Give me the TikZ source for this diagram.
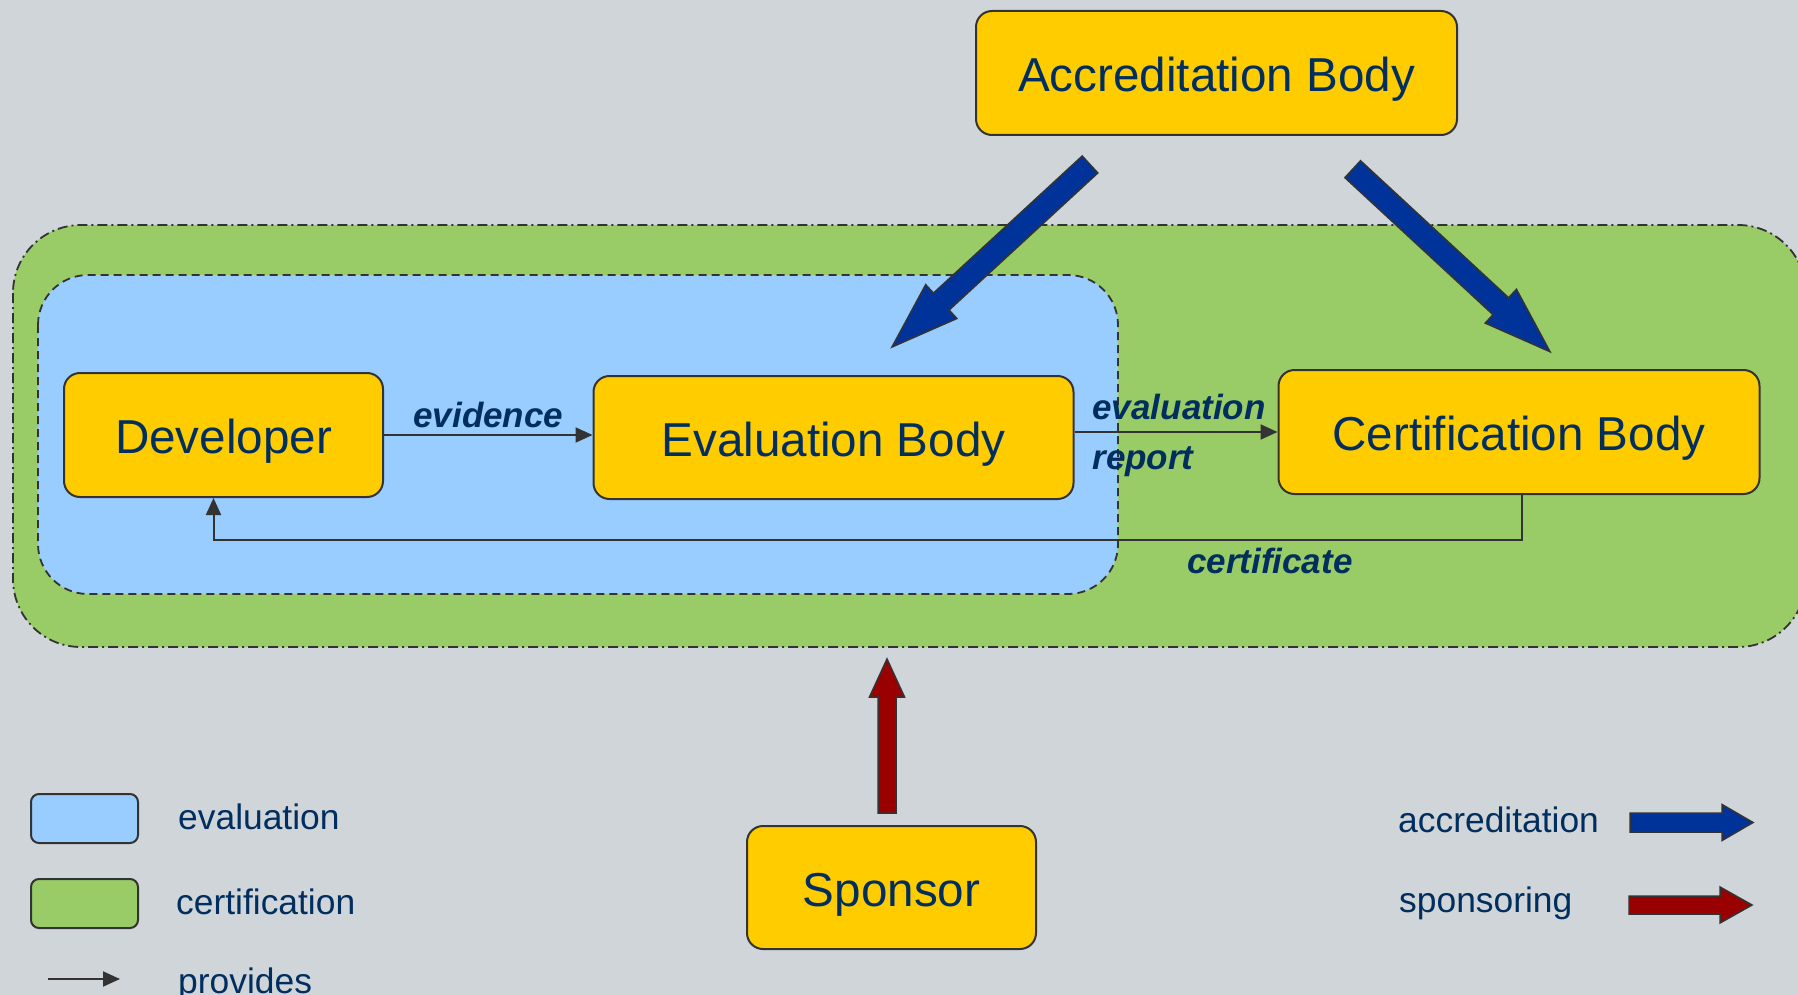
\documentclass[tikz,border=0pt]{standalone}
\usepackage{fontspec}
\setmainfont{Liberation Sans}
\usetikzlibrary{arrows.meta,calc}
\definecolor{bg}{RGB}{208,213,217}
\definecolor{certgreen}{RGB}{153,204,102}
\definecolor{evalblue}{RGB}{153,204,255}
\definecolor{boxyellow}{RGB}{255,204,0}
\definecolor{navy}{RGB}{0,46,94}
\definecolor{outline}{RGB}{51,51,51}
\definecolor{accblue}{RGB}{0,51,153}
\definecolor{sponred}{RGB}{153,0,0}

% tail, tip, fill, shaft half width, head half width, head length
\newcommand\BlockArrow[6]{%
  \coordinate (ba-hb) at ($(#2)!#6!(#1)$);
  \draw[blockarrow, fill=#3]
    ($(#1)!#4!90:(#2)$) -- ($(ba-hb)!#4!90:(#2)$) -- ($(ba-hb)!#5!90:(#2)$)
    -- (#2)
    -- ($(ba-hb)!#5!-90:(#2)$) -- ($(ba-hb)!#4!-90:(#2)$) -- ($(#1)!#4!-90:(#2)$) -- cycle;
}

\begin{document}
\begin{tikzpicture}[x=1pt,y=-1pt,
  entity/.style={draw=outline, line width=2pt, fill=boxyellow, rounded corners=16pt,
    text=navy, font=\fontsize{47.6}{56}\selectfont, text height=37pt, text depth=0pt, inner sep=0pt},
  lbl/.style={text=navy, font=\fontsize{35}{42}\selectfont\bfseries\itshape, inner sep=0pt},
  legtext/.style={text=navy, font=\fontsize{35.4}{42}\selectfont, inner sep=0pt},
  legbox/.style={draw=outline, line width=2pt, rounded corners=8pt, minimum width=107pt, minimum height=49pt, inner sep=0pt},
  provides/.style={draw=outline, line width=2pt, -{Triangle[length=17pt,width=15pt]}},
  blockarrow/.style={draw=outline, line width=1.5pt, line join=miter},
  certregion/.style={fill=certgreen, draw=outline, line width=1.8pt,
    dash pattern=on 10pt off 4pt on 2pt off 4pt, rounded corners=68pt},
  evalregion/.style={fill=evalblue, draw=outline, line width=1.8pt,
    dash pattern=on 8pt off 5pt, rounded corners=50pt}
]
\useasboundingbox (0,0) rectangle (1798,995);
\clip (0,0) rectangle (1798,995);
\fill[bg] (0,0) rectangle (1798,995);

% regions
\draw[certregion] (13,225) rectangle (1806,647);
\draw[evalregion] (38,275) rectangle (1118,594);

% block arrows
\coordinate (acc1tail) at (1090,164.5);
\coordinate (acc1tip) at (892,347);
\BlockArrow{acc1tail}{acc1tip}{accblue}{11.5pt}{23pt}{67pt}
\coordinate (acc2tail) at (1352.7,169.2);
\coordinate (acc2tip) at (1550,351.7);
\BlockArrow{acc2tail}{acc2tip}{accblue}{11.5pt}{23pt}{67pt}
\coordinate (spontail) at (887,813);
\coordinate (spontip) at (887,659);
\BlockArrow{spontail}{spontip}{sponred}{9pt}{17.5pt}{38pt}

% main boxes
\node[entity, minimum width=319pt, minimum height=124pt] (dev) at (223.5,435) {Developer};
\node[entity, minimum width=480pt, minimum height=123pt] (eval) at (833.5,437.5) {Evaluation Body};
\node[entity, minimum width=481pt, minimum height=124pt] (cert) at (1519,432) {Certification Body};
\node[entity, minimum width=481pt, minimum height=124pt] (acc) at (1216.5,73) {Accreditation Body};
\node[entity, minimum width=289pt, minimum height=123pt] (spon) at (891.5,887.5) {Sponsor};

% provides connectors
\draw[provides] (dev.east) -- (dev.east -| eval.west)
  node[midway, lbl, anchor=base, yshift=8pt] {evidence};
\draw[provides] (eval.east |- cert.west) -- (cert.west)
  node[pos=0, lbl, anchor=base west, xshift=17pt, yshift=13pt] {evaluation}
  node[pos=0, lbl, anchor=base west, xshift=17pt, yshift=-37pt] {report};
\draw[provides] ([xshift=3pt]cert.south) -- ++(0,45) -| ([xshift=-10pt]dev.south);
\node[lbl, anchor=base west] (certlbl) at (1187,573) {certificate};

% legend
\node[legbox, fill=evalblue] (legeval) at (84.5,818.5) {};
\node[legtext, anchor=base west] (legevaltxt) at (178,829) {evaluation};
\node[legbox, fill=certgreen] (legcert) at (84.5,903.5) {};
\node[legtext, anchor=base west] (legcerttxt) at (176,914) {certification};
\coordinate (provA) at (48,979);
\coordinate (provB) at (120,979);
\draw[provides] (provA) -- (provB);
\node[legtext, anchor=base west] (provtxt) at (178,993) {provides};

\node[legtext, anchor=base west] (accrtxt) at (1398,832) {accreditation};
\coordinate (legaccA) at (1630,822.5);
\coordinate (legaccB) at (1753,822.5);
\BlockArrow{legaccA}{legaccB}{accblue}{9.5pt}{18pt}{31pt}
\node[legtext, anchor=base west] (spontxt) at (1399,912) {sponsoring};
\coordinate (legsponA) at (1629,905);
\coordinate (legsponB) at (1752,905);
\BlockArrow{legsponA}{legsponB}{sponred}{9pt}{18pt}{32pt}
\end{tikzpicture}
\end{document}
